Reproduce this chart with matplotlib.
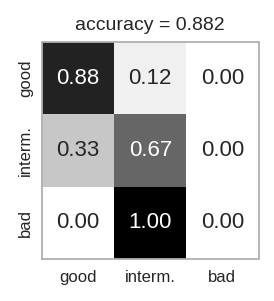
import numpy as np
import matplotlib.pyplot as plt

plt.rcParams['font.family'] = ['Liberation Sans', 'DejaVu Sans']

labels = ["good", "interm.", "bad"]
cm = np.array([[0.88, 0.12, 0.00],
               [0.33, 0.67, 0.00],
               [0.00, 1.00, 0.00]])
accuracy = 0.882

fig = plt.figure(figsize=(2.74, 3.01), dpi=100)
ax = fig.add_axes([42/274, 1-259/301, 216.5/274, 217/301])
ax.imshow(cm, cmap="Greys", vmin=0, vmax=1, aspect="auto")

for i in range(3):
    for j in range(3):
        v = cm[i, j]
        col = "white" if v > 0.5 else "#262626"
        ax.text(j, i, "%.2f" % v, ha="center", va="center", color=col, fontsize=16)

ax.set_xticks(range(3))
ax.set_xticklabels(labels)
ax.set_yticks(range(3))
ax.set_yticklabels(labels, rotation=90, va="center")
ax.tick_params(length=0, labelsize=12, colors="#262626")
ax.tick_params(axis="x", pad=8)
ax.tick_params(axis="y", pad=6.5)
for s in ax.spines.values():
    s.set_color("#b0b0b0")
    s.set_linewidth(1.3)
ax.set_title("accuracy = %.3f" % accuracy, fontsize=14, color="#262626", pad=9)

fig.savefig("out.png", dpi=100)
